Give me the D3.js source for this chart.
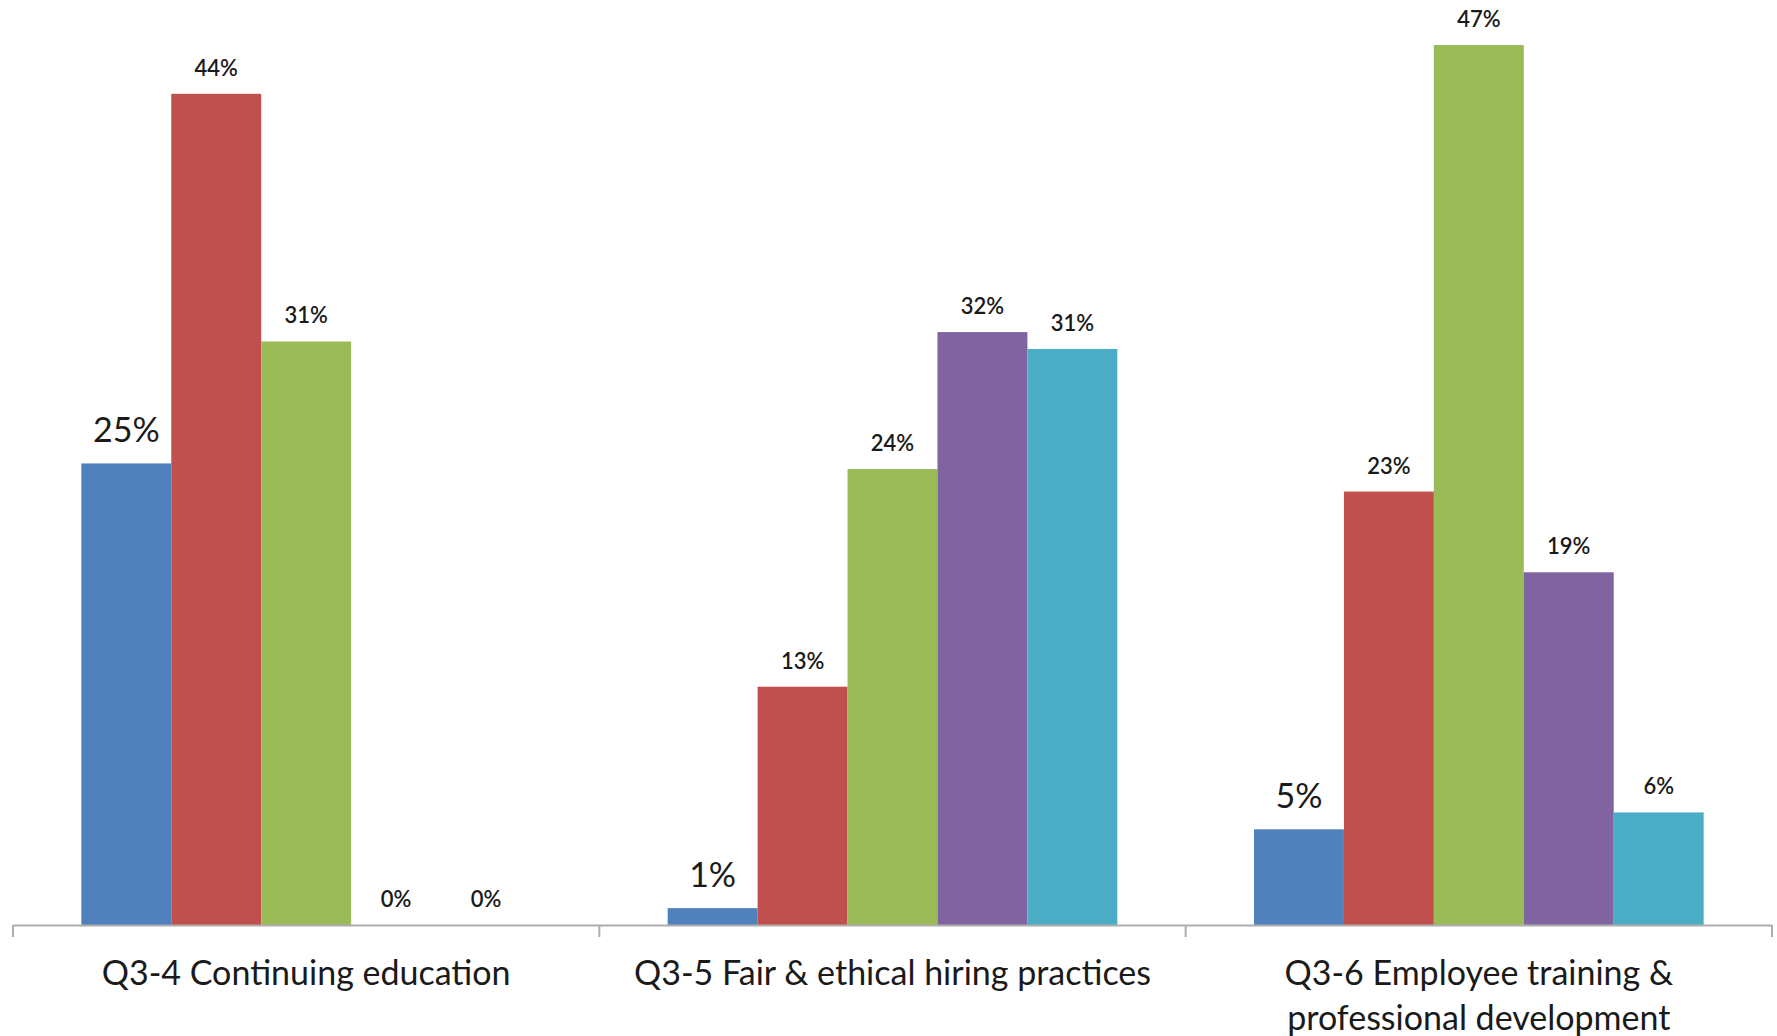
<!DOCTYPE html>
<html>
<head>
<meta charset="utf-8">
<script src="https://cdn.jsdelivr.net/npm/d3@7"></script>
<style>
    body { margin: 0; background: #fff; }
    svg { display: block; font-family: Lato, "Open Sans", sans-serif; }
</style>
</head>
<body>
<svg id="chart" width="1777" height="1036"></svg>
<script>
// Data
let categories = ["Q3-4 Continuing education", "Q3-5 Fair & ethical hiring practices", "Q3-6 Employee training & professional development"];
let categoryLines = [["Q3-4 Continuing education"], ["Q3-5 Fair & ethical hiring practices"], ["Q3-6 Employee training &", "professional development"]];
let series = ["s1", "s2", "s3", "s4", "s5"];
let colors = ["#4F81BD", "#C0504D", "#9BBB59", "#8064A2", "#4BACC6"];
let valuesQ34 = [24.6, 44.3, 31.1, 0, 0];
let valuesQ35 = [0.9, 12.7, 24.3, 31.6, 30.7];
let valuesQ36 = [5.1, 23.1, 46.9, 18.8, 6.0];

let allValues = [valuesQ34, valuesQ35, valuesQ36];

let svg = d3.select("#chart");
let left = 13,
    right = 1772,
    baseline = 925;

// Scales
let x0 = d3.scaleBand()
    .domain(categories)
    .range([left, right]);

let x1 = d3.scaleBand()
    .domain(series)
    .range([0, x0.bandwidth()])
    .paddingOuter(0.76);

let y = d3.scaleLinear()
    .domain([0, 49.3])
    .range([baseline, 0]);

let rows = [];
categories.forEach((c, i) => {
    series.forEach((s, j) => {
        rows.push({cat: c, ser: s, idx: j, value: allValues[i][j]});
    });
});

// Bars
svg.append("g")
    .selectAll("rect")
    .data(rows)
    .join("rect")
    .attr("x", d => x0(d.cat) + x1(d.ser))
    .attr("y", d => y(d.value))
    .attr("width", x1.bandwidth())
    .attr("height", d => baseline - y(d.value))
    .attr("fill", d => colors[d.idx]);

// Value labels (first series is drawn larger)
svg.append("g")
    .selectAll("text")
    .data(rows)
    .join("text")
    .attr("x", d => x0(d.cat) + x1(d.ser) + x1.bandwidth() / 2)
    .attr("y", d => y(d.value) - (d.idx === 0 ? 21 : 18))
    .attr("text-anchor", "middle")
    .attr("font-size", d => d.idx === 0 ? "34px" : "22px")
    .attr("font-weight", d => d.idx === 0 ? 400 : 600)
    .attr("fill", "#1a1a1a")
    .text(d => Math.round(d.value) + "%");

// X axis line with ticks at the category edges
let axis = svg.append("g");
axis.append("line")
    .attr("x1", left)
    .attr("x2", right)
    .attr("y1", baseline + 0.5)
    .attr("y2", baseline + 0.5)
    .attr("stroke", "#adadad")
    .attr("stroke-width", 2);

let edges = categories.map(c => x0(c)).concat([right]);
axis.selectAll(".tick")
    .data(edges)
    .join("line")
    .attr("class", "tick")
    .attr("x1", d => d)
    .attr("x2", d => d)
    .attr("y1", baseline)
    .attr("y2", baseline + 12)
    .attr("stroke", "#adadad")
    .attr("stroke-width", 2);

// Category labels
let catLabels = axis.selectAll(".cat")
    .data(categories)
    .join("text")
    .attr("class", "cat")
    .attr("text-anchor", "middle")
    .attr("font-size", "34px")
    .attr("fill", "#1a1a1a");

catLabels.selectAll("tspan")
    .data((d, i) => categoryLines[i].map(t => ({t: t, cat: d})))
    .join("tspan")
    .attr("x", d => x0(d.cat) + x0.bandwidth() / 2)
    .attr("y", (d, i) => 985 + i * 45)
    .text(d => d.t);
</script>
</body>
</html>
